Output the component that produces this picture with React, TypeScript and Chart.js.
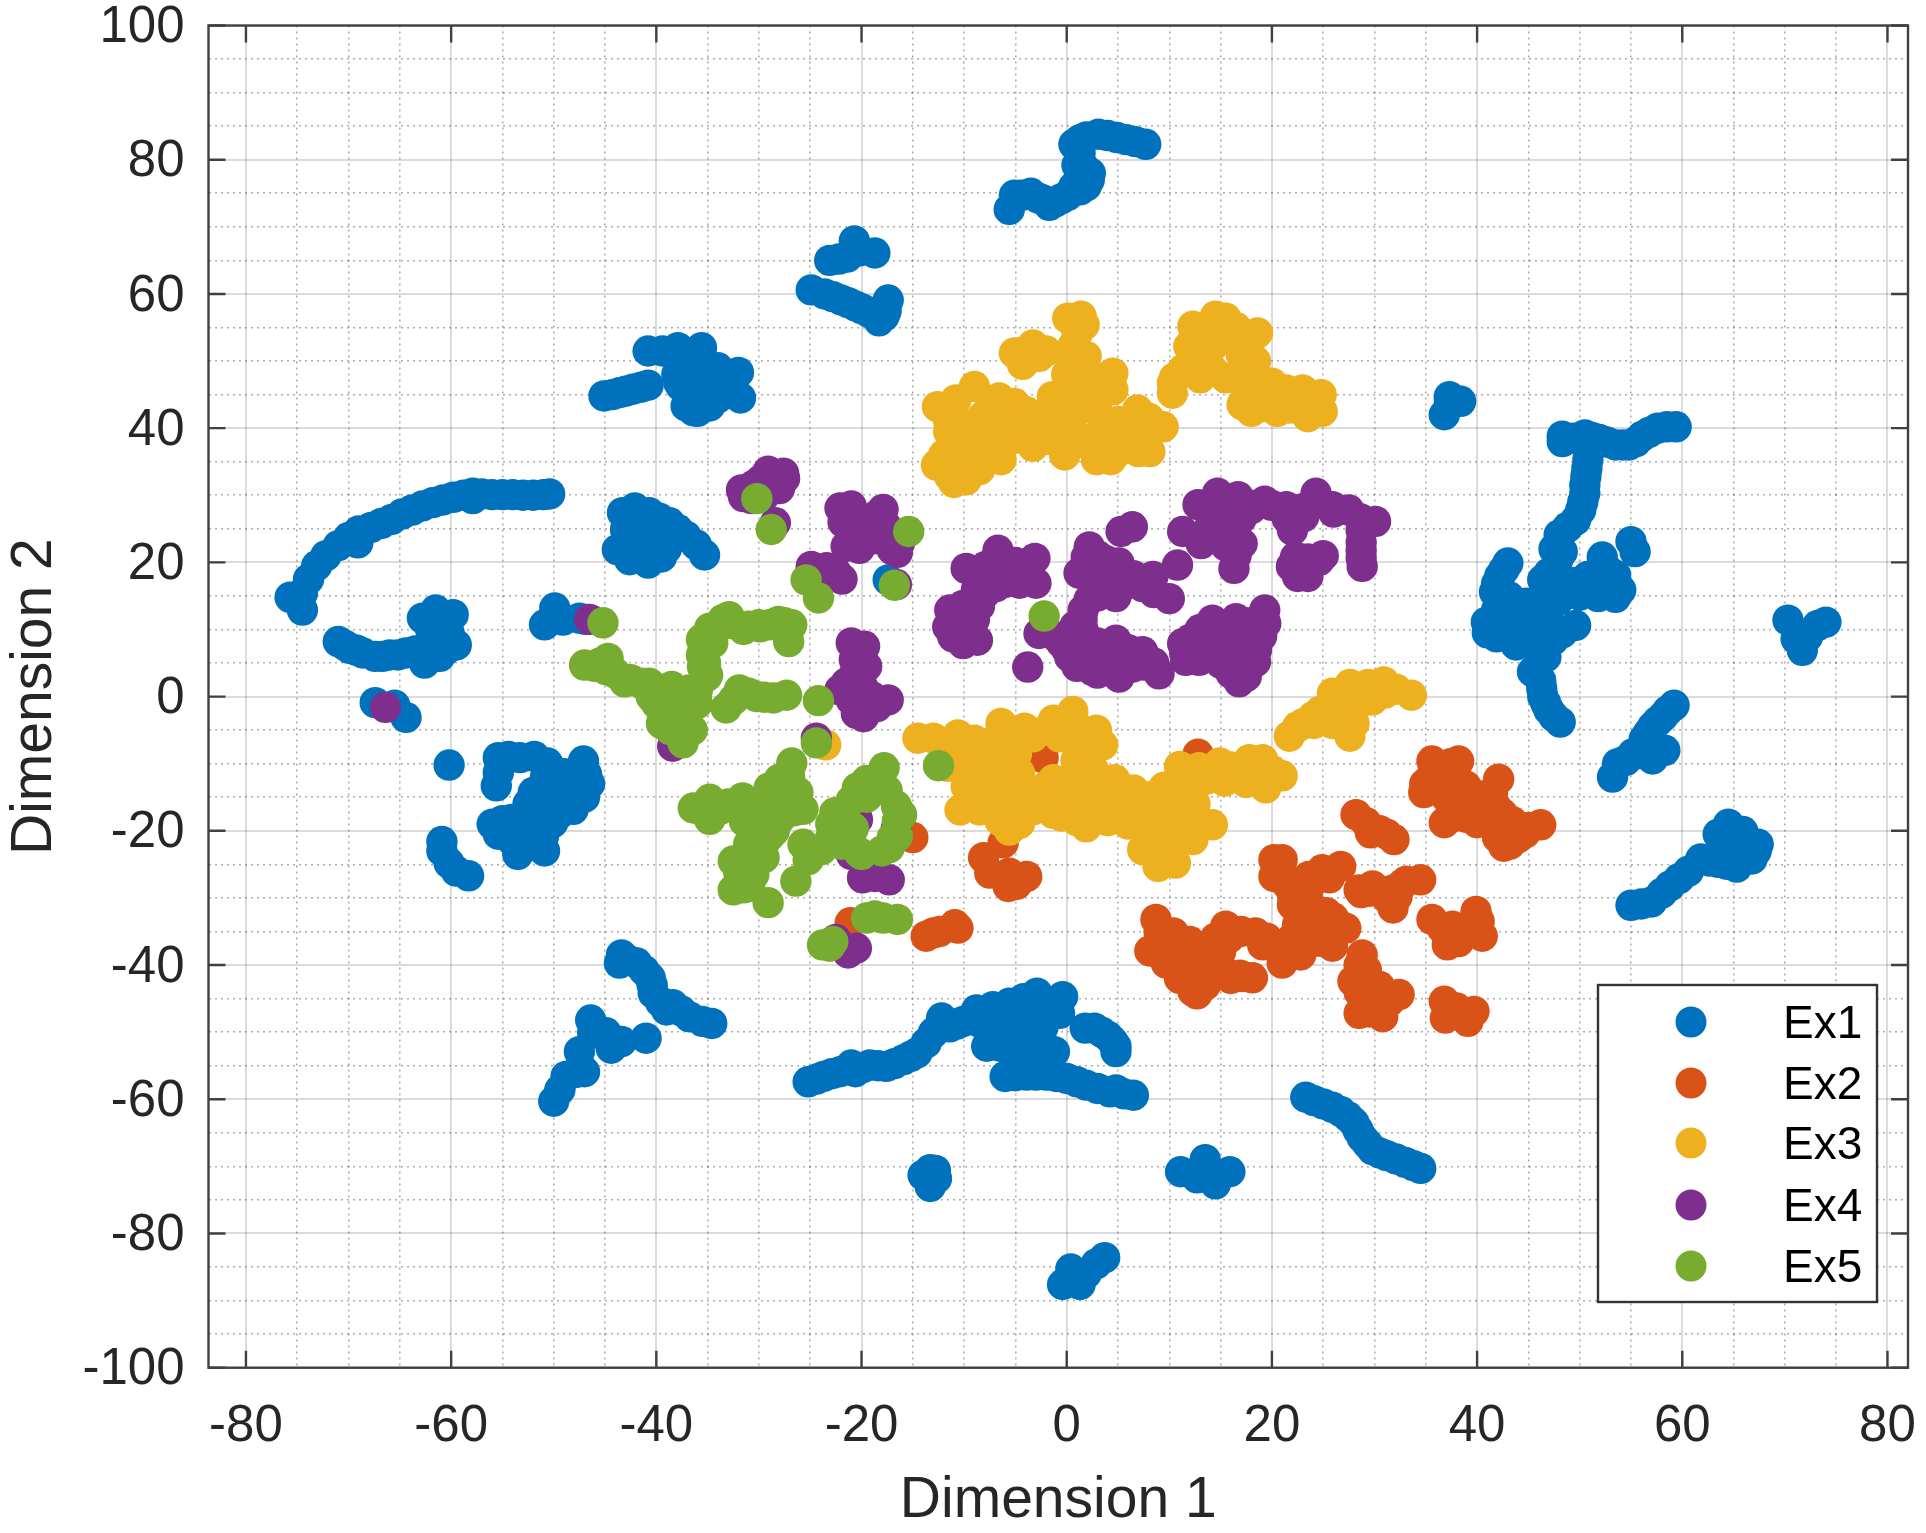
import React, { useEffect, useRef } from "react";
import { Chart, registerables } from "chart.js";

Chart.register(...registerables);

const seriesNames = ["Ex1", "Ex2", "Ex3", "Ex4", "Ex5"];
const seriesColors = ["#0072BD", "#D95319", "#EDB120", "#7E2F8E", "#77AC30"];
const xTicks = [-80,-75,-70,-65,-60,-55,-50,-45,-40,-35,-30,-25,-20,-15,-10,-5,0,5,10,15,20,25,30,35,40,45,50,55,60,65,70,75,80];
const yTicks = [-100,-95,-90,-85,-80,-75,-70,-65,-60,-55,-50,-45,-40,-35,-30,-25,-20,-15,-10,-5,0,5,10,15,20,25,30,35,40,45,50,55,60,65,70,75,80,85,90,95,100];
const xRange = [-83.65, 82];
const yRange = [-100, 100];

const ex1: number[][] = [
  [-75.7,14.8],[-74.5,12.9],[-74.5,15.4],[-73.9,17.5],[-73.1,19.5],[-72.2,21],[-71,22.5],[-70,23.7],[-69.1,22.9],[-69,24.7],[-67.8,25.2],[-66.8,25.8],[-65.8,26.4],[-64.8,27.2],[-63.8,27.8],[-62.8,28.4],[-61.8,28.9],[-60.8,29.3],[-59.8,29.7],[-58.8,30],[-57.9,30.3],[-57.9,29.5],[-57,30.2],[-56,30.1],[-55,30.1],[-54,30.1],[-53,30],[-52,30],[-51,30.1],[-50.4,30.2],
  [-71,8.2],[-70.4,7.7],[-69.9,7.2],[-69.2,6.9],[-68.6,6.5],[-67.4,6],[-66.7,6],[-66,6.2],[-65.2,6.2],[-64.4,6.5],[-63.5,6.8],[-62.6,5],[-62.8,7],[-61.5,8],[-61.1,6],[-60.5,7],[-59.5,7.7],[-60.2,9.5],[-61.5,9.5],[-62,10],[-62.8,11.7],[-61.5,12.9],[-59.8,12.2],[-61,11],
  [-49.9,13.2],[-50.9,10.7],[-49.1,11.4],[-47.5,11.7],[-46.9,11.5],
  [-43.3,27.4],[-42.1,28.1],[-40.7,27.4],[-39.7,26.6],[-38.7,25.9],[-37.9,24.9],[-37.1,23.9],[-36.1,22.6],[-35.3,21.1],[-43.8,21.9],[-42.6,20.4],[-40.8,19.9],[-39,22.1],[-41.7,24.4],[-43,24.9],[-40,24.4],[-41.5,22],[-42.5,26],[-41,26],[-42.5,23],[-41,21.5],[-40,22],[-38.5,24],[-43,22.5],[-39.5,20.8],
  [-40.8,51.5],[-39.4,51.5],[-37.9,52],[-35.6,52],
  [-45.1,44.8],[-44.3,45],[-43.6,45.3],[-43,45.5],[-42.3,45.8],[-41.5,46.1],[-40.8,46.4],
  [-37.8,46.8],[-36,42.5],[-37.1,43.3],[-34.8,43.3],[-35.8,49],[-35.2,43.5],[-33.4,46.3],[-37.6,46.3],[-34,49],[-36.4,42.6],[-32,48.3],[-31.8,44.5],[-36.5,47],[-35,46],[-33,47.5],[-32.5,46],[-36.5,44.5],[-36,45.5],[-34,44.5],[-37,45],[-38,48],[-36.5,49],[-34.5,47.5],[-32.7,47],
  [-24.9,60.6],[-23.6,60],[-22.8,59.6],[-22,59.1],[-21.3,58.7],[-20.6,58.2],[-20,57.8],[-19.3,57.3],[-18.3,56],[-17.8,56.7],[-17.4,59.1],[-17.6,57.5],[-23.1,65],[-20.7,67.9],[-20.2,66.4],[-18.7,66.1],[-21.4,65.5],[-22.2,65.2],
  [-5.6,72.6],[-5.1,74.7],[-4.4,74.7],[-3.5,75],[-2.8,74.3],[-2.3,74],[-1.7,73.2],[-1.1,73.7],[-0.5,74.2],[0.1,74.7],[0.7,76],[1.3,75.5],[1.9,76.1],[2.2,77],[2.3,78],[1.6,79],[1,79.2],[1.3,81],[0.7,82.3],[1.3,83],[1.9,83.4],[3.1,83.8],[4,83.6],[4.9,83.3],[5.8,83],[6.7,82.7],[7.7,82.3],
  [-67.4,-0.9],[-65.5,-1.3],[-64.4,-3.1],[-60.2,-10.2],[-60.9,-21.6],[-60.9,-23],[-60.2,-24.8],[-59.5,-26],[-58.3,-26.7],
  [-55.4,-9.1],[-54.4,-8.9],[-53.3,-9.1],[-51.9,-8.9],[-50.6,-9.9],[-47.1,-9.6],[-46.8,-11.6],[-55.6,-13.3],[-55.4,-11.3],[-52,-14.3],[-50.1,-13.3],[-47.1,-13.8],[-48.1,-16.8],[-50.1,-18.8],[-52,-16.8],[-54.1,-18.3],[-55.4,-20.5],[-53.5,-23.5],[-50.9,-23],[-51,-20.8],[-53.3,-20.8],[-54.6,-20.3],[-49.1,-16.3],[-50.4,-11.8],[-47.1,-11.8],[-48.4,-14.8],[-50.1,-15.8],[-50.7,-18.8],[-52,-19.6],[-49,-11.5],[-50.8,-12],[-53.5,-19.5],[-52.5,-22],[-51.7,-18],[-50.5,-17],[-49,-14],[-46.5,-13],[-49,-13],[-51,-14.5],[-52.5,-16],[-47,-15],[-49.5,-17.5],[-54,-21.5],[-56,-19],[-55,-18.5],
  [-43.4,-38.5],[-43.6,-39.7],[-42.7,-39.3],[-41.9,-39.7],[-41.2,-40.8],[-40.6,-41.9],[-40.4,-43],[-40.3,-44.2],[-39.6,-45.5],[-39,-46.7],[-38.4,-45.9],[-37.6,-46.8],[-36.8,-47.7],[-35.5,-48.4],[-34.6,-48.7],[-41,-50.9],[-43.4,-51.4],[-44.4,-52.4],[-44.9,-50.1],[-46.4,-48.2],[-46.2,-50.1],[-47.5,-52.9],[-47,-55.9],[-48.8,-56.6],[-49.4,-58.6],[-50,-60.3],[-47.8,-56],
  [-25.2,-57.4],[-24.4,-57],[-23.7,-56.6],[-22.9,-56.2],[-22.1,-55.9],[-21,-54.9],[-20.6,-55.9],[-19.9,-55.3],[-19.2,-54.9],[-18.4,-55],[-17.6,-55.1],[-16.8,-54.7],[-15.9,-54.1],[-15.2,-53.6],[-14.6,-53.1],[-13.7,-51.6],[-13,-50.1],[-12.2,-47.9],[-11.4,-49.2],[-10.7,-48.8],[-10.1,-48.4],[-8.8,-46.7],[-7.2,-46.2],[-5.6,-45.7],[-4.2,-45],[-2.9,-44.2],[-0.4,-44.7],[-0.7,-47.2],[-2.3,-49.2],[-4.6,-49.7],[-7.8,-52.1],[-6.5,-52.1],[-3.3,-52.4],[-1.2,-52.9],[-4.9,-47.7],[-7.2,-48.7],[-2.6,-46.2],[-6,-56.6],[-5,-56.5],[-3.9,-56.4],[-3,-56.4],[-2,-56.4],[-1,-56.6],[0,-56.9],[1,-57.4],[1.9,-57.9],[3,-58.4],[4.2,-58.9],[4.8,-58.6],[5.6,-59.2],[6.5,-59.4],[-3.3,-54.6],[-4.8,-54.5],[-2,-54.6],[-6,-47.5],[-4,-46.5],[-3,-47.5],[-1.5,-46],[-1,-46],[-6.5,-50],[-5.5,-51],[-4,-51],[-2.5,-51],[-5,-53.5],[-3.5,-53.5],[-2.5,-53.5],[-8.5,-48.5],[-7,-50],[-9,-47.5],[-8,-47],
  [1.8,-49.4],[2.7,-49.4],[3.4,-50],[4,-50.6],[4.5,-51.4],[4.8,-52.1],[4.8,-52.9],
  [-13.3,-70.5],[-14,-71.3],[-12.7,-71.8],[-13.3,-73],[-12.8,-70.6],
  [-0.4,-87.6],[1.3,-87.6],[0.4,-85.3],[1.9,-86],[2.9,-84.5],[3.7,-83.6],
  [11.1,-70.8],[12.7,-71.7],[13.5,-69],[14.5,-72.6],[15.9,-70.8],[14,-71],
  [23.3,-59.7],[24.1,-60.2],[25,-60.7],[25.9,-61.2],[26.7,-61.8],[27.4,-62.6],[28,-63.5],[28.4,-64.6],[28.8,-65.7],[29.3,-66.6],[29.8,-67.5],[30.5,-68],[31.2,-68.4],[32.1,-68.9],[33,-69.4],[33.8,-69.9],[34.5,-70.3],
  [37.3,44.2],[38.4,44],[36.8,42],[37.3,44.7],
  [48.3,38.8],[48.3,38],[49.4,38.5],[50.5,39],[51.2,38.6],[51.9,38.3],[52.7,37.9],[53.5,37.5],[54.2,37.5],[54.8,37.5],[55.5,38],[56.1,38.8],[56.8,39.4],[57.6,40],[58.5,40.2],[59.4,40.2],
  [50.8,35.3],[50.7,34],[50.6,32.8],[50.5,31.5],[50.5,30.3],[50.3,29],[50.1,27.8],[49.6,26.3],[48.8,25.2],[48,24.1],[48.3,21.6],[47.9,20.5],[47.7,19.4],[47,18.4],[46.4,17.4],[46.7,15.4],[47.5,22],[47.8,18],
  [43,19.9],[42.6,18.9],[42.2,17.9],[41.9,16.8],[41.7,15.6],[43.1,14.9],
  [40.9,11.1],[41.9,8.9],[43.8,7.7],[46.1,7.4],[47.4,8.4],[45.4,11.4],[43.5,12.4],[41.9,12.9],[44.8,13.9],[46.4,13.4],[49.6,10.6],[47,10.9],[43,10],[48.3,9.5],[44,9.5],[46,9],[42.5,11.5],[44,11],[46,11],[42,10],[41,9.5],[45,8],[44.5,13],[43,14],[47.5,14],
  [52.2,20.8],[50.8,17.9],[52.7,18.9],[49.3,16.4],[51.8,14.9],[54,15.9],[53.5,18.1],[50,15.1],[48,14.5],[49.5,17],[51,16],[52.5,16],[53,17],[53.5,14.8],[52,17.5],[48.5,15.5],
  [55,23.1],[55.4,21.6],
  [45.4,3.7],[46.2,2.4],[46.4,0],[46.7,-1],[47,-2],[47.5,-3],[48.1,-3.8],[46.3,1.2],[46.7,5.9],
  [70.3,11.4],[71.1,8.6],[71.7,6.9],[72.2,8.9],[73.2,10.6],[74,11.1],
  [59.2,-1.3],[58.6,-2.1],[58.1,-3],[57.6,-3.7],[57.1,-4.5],[56.7,-5.4],[56.3,-6.3],[58.3,-8],[57.1,-9.3],[55.8,-8.5],[54.5,-9.5],[53.2,-12],[53.7,-10],[55.2,-8.5],
  [55,-31.1],[56,-30.9],[57,-30.6],[58,-29.3],[58.8,-28.2],[59.7,-27.1],[60.6,-26],[61.8,-24.2],[62.6,-24.5],[63.5,-24.7],[64.4,-25],[65.3,-25.4],[66.8,-24.2],[67.2,-23],[67.4,-22],[65.9,-20.1],[64.5,-19],[63.5,-20.5],[64.8,-23.5],
  [-17.4,17.4],
];

const ex2: number[][] = [
  [35.6,-9.6],[38.2,-9.6],[34.8,-14.3],[36,-12.3],[37.3,-13.3],[38.9,-13.3],[42.1,-12.3],[40.5,-14.8],[36.8,-18.8],[40,-18.8],[38.9,-16.3],[41.8,-16.3],[43.4,-18.6],[44.7,-20.3],[46.2,-19.1],[42.6,-22.3],[43.5,-21],[36,-10.5],[37.4,-10],[35.5,-12],[37,-15],[38,-15],[40,-16.5],[39,-18],[42.5,-17.5],[41,-17.5],[43,-20],[45,-19.5],[37.5,-18],[36.5,-14],[34.9,-13],[39.5,-15],[41.5,-14.5],[44,-21],[42,-21],[43.2,-22],
  [28.2,-17.6],[29.2,-18.8],[30.5,-20],[31.9,-21.3],[29.6,-20.3],[31.2,-20.5],
  [20.2,-24.3],[20.2,-26.8],[21,-24.3],[24.9,-25.8],[26.7,-25.3],[25.6,-27],[23.6,-26.8],[22.7,-27.8],[22.8,-30.7],[25.3,-32.2],[27.2,-34.5],[25.6,-35.2],[25.9,-37.2],[23,-32.7],[24.3,-34.2],[21,-26.5],[21.5,-28],[22,-29.5],[23.5,-29],[26,-33],[26.5,-34],[24,-31.5],[23.5,-33],[25,-33],[25,-36.5],[22.5,-34],[22,-31],[22,-36],[20.5,-37],[19.5,-36],[23,-36.5],[24,-36.5],
  [28.5,-28.8],[30.5,-29],[29.5,-29],[31.8,-28.8],[33.1,-27.5],[34.5,-27.3],[31.8,-31.5],[32.2,-29.8],[30.7,-29],[32.7,-28],[31.2,-30],[28.7,-29.2],[29.8,-28.2],
  [35.6,-33.2],[37.6,-34.2],[39.9,-32],[40.2,-33.5],[40.5,-35.7],[37.1,-37],[38.2,-36.5],[39,-34.5],[36.6,-34.5],
  [28.8,-38.5],[29.2,-40.7],[27.9,-42.4],[30.5,-43.2],[32.4,-44.4],[28.5,-47.2],[30.8,-47.7],[29.8,-45.2],[31.4,-45.5],[28.9,-43],[28.5,-40],[28.5,-44],[29.5,-47],[31,-45.5],[30,-43],
  [36.8,-45.4],[38,-46.4],[36.9,-47.9],[39.1,-48.4],[39.7,-46.9],
  [8.7,-33.2],[10.4,-35.2],[15.5,-34.2],[18.4,-35.2],[21,-39.7],[22.8,-38.5],[21.9,-36.7],[17.1,-41.7],[15.2,-40.7],[12.3,-43.9],[12.3,-40.2],[10.3,-39.2],[9,-37.7],[8.1,-37.9],[12.7,-44.3],[16.9,-41.5],[18.1,-41.9],[13.9,-37],[10.9,-37],[11.5,-40.6],[9.7,-39.7],[13.6,-37.4],[11.2,-37.7],[19.1,-37],[14.5,-36],[17,-35],[13,-39],[15,-38],[14,-42],[11,-42],[10,-37.5],[13.5,-41],[15.8,-36],[12,-36.5],[16,-42],[9.5,-35.5],[9,-35],[13.5,-43],
  [12.8,-8.6],[-2.3,-9.1],
  [-8.1,-24],[-6.2,-21.8],[-5.6,-26.3],[-3.9,-26.8],[-7.5,-26.3],[-5.7,-28.3],[-4.9,-28],[-15,-21],
  [-13.7,-35.7],[-12.4,-35],[-10.9,-34],[-10.6,-34.5],[-13,-35.2],
  [-21.1,-33.7],
];

const ex3: number[][] = [
  [0.1,56.4],[1.4,56.7],[1.7,55.4],[-5.1,51.2],[-3.3,52.4],[-4.3,49.5],[-2.7,50.7],[0.6,52.2],[1.9,50.7],[0,48],[4.5,48.2],[4.5,45.7],[-1.4,44.7],[0.9,46.7],[2.5,44.7],[-12.6,43.2],[-10.8,44.2],[-9,46.2],[-6.6,44.5],[-5.1,43.7],[-8.2,41.7],[-10.5,38.8],[-12.7,34.5],[-11.4,32.8],[-9.8,32.3],[-8.5,33.8],[-6.4,35.3],[-6.9,38.8],[-4.6,40.7],[-3.3,37.3],[-0.2,36],[2.9,35.3],[4.3,35.3],[8.1,36.5],[9.4,40.2],[6.9,42.7],[10.3,45.2],[0,40.7],[-1.7,38.3],[1.9,38.3],[5.8,37.8],[3.8,40.7],[7.1,39.3],[-11.5,41],[-10,36],[-8.3,37.5],[-12,36],[-6.5,41.5],
  [-9,40],[-7,40],[-5,38.5],[-3,39],[-1.5,41],[1,42.5],[3,42.5],[5,41],[-1,43],[1,44.5],[3.5,46.5],[2,48.5],[6,39.5],[-8.5,36],[-7.5,43],[-4,42.5],[-2.5,41],[0.5,37.5],[3,37],[5,36.5],[7,36.5],[8,41.5],[1,54],[0.5,50],[1.3,48],[-4,51.5],[-2,51.5],[-10,40.5],[-11.5,39.5],[-10.5,34],[-11,31.9],
  [12.3,55.2],[14.5,56.7],[15.5,56.4],[18.6,54.2],[11.9,52.2],[14.2,52.2],[16.5,52.7],[18.4,50],[11.3,48.7],[14.2,48.7],[17.1,48.7],[10.3,46.7],[20,46.7],[17.1,43.5],[19.1,43.2],[21.4,45.7],[23,45.7],[24.8,45],[24.9,42.5],[23.5,41.7],[21.7,43],[18.8,46],[13,54],[15,54],[16.5,55],[17,51],[12.5,50],[10.5,47.5],[15.5,47.5],[13,47.5],[18.5,47.5],[17.5,45.5],[20,44],[22.5,43.5],[22.5,45],[20.5,42.5],[18,42.5],[24,43.5],
  [-14.5,-6.2],[-13,-6.2],[-10.6,-5.7],[-11.6,-10.4],[-6.4,-4],[-4.1,-4.7],[-1.3,-3.5],[0.6,-2.2],[2.9,-5],[3.5,-7.2],[-10.4,-16.9],[-8.5,-16.9],[-5.6,-19.9],[-7.2,-10],[-4.9,-8.5],[-9.8,-13.4],[-7.5,-13.4],[-4.6,-13.4],[-2,-13.4],[0.6,-14.9],[-3.3,-16.9],[-0.7,-6],[0.9,-9.5],[2.6,-10.9],[4.7,-12.4],[8.1,-14.9],[3.2,-14.9],[1.6,-16.4],[1.9,-19.4],[5.8,-17.4],[6.5,-13.9],[11,-10.4],[-4.6,-18.9],[-1.3,-17.4],[-3.3,-6],[-4.6,-11.4],[-1.3,-12.4],[0.6,-6.5],[1.6,-8.5],[-8,-7],[-10,-9],
  [-12,-7],[-9,-6.5],[-9,-9],[-8,-12],[-6,-7],[-6,-12],[-6,-15],[-8,-15],[-5,-17.5],[-3,-15],[-1,-15],[0.5,-12],[2,-13],[1,-4.5],[2,-6.5],[-2,-5],[-6.5,-18.5],[4,-16],[4,-18.5],[6,-16],[7.5,-18],[9,-18],[6,-19],[8,-20.5],[10,-22.5],[11.5,-19],[11,-14],[8,-21],[12,-18],[12.5,-16],[9.5,-13.5],[7,-15.5],[11,-12.5],[-0.5,-17.8],[1,-18.5],
  [12.9,-10.6],[14.9,-9.9],[17.8,-9.4],[19.1,-9.4],[21,-11.8],[17.5,-12.8],[19.4,-13.6],[15.4,-12.6],[13.6,-12.3],[11.8,-14.8],[10.3,-16.8],[14.2,-19.1],[12.3,-21.3],[10.6,-24.8],[8.9,-25.3],[8.7,-15.3],[10,-20.3],[7.4,-22.8],[8,-17.8],[9,-23],[16,-10.5],[18.5,-11],[20,-11],[16,-12],[12,-11.5],
  [21.7,-5.9],[23.1,-4],[24.7,-2.2],[25.9,0.5],[27.6,1.8],[27.6,-5.9],[25.9,-4],[30,0.5],[30.9,2.2],[32.1,1.1],[33.6,0.2],[28.8,-0.7],[27,-1.8],[24.1,-4],[29.4,1.8],[22.5,-4.5],[24,-3],[25.2,-2],[26.5,-3],[26.7,0.5],[28.5,1.2],[28,-4],[27,-1],[29.8,-0.5],[31,0.5],
  [-23.5,-7.2],
];

const ex4: number[][] = [
  [-9.8,19.1],[-6.7,21.8],[-7.9,19.4],[-3.1,20.6],[-5.9,18.4],[-3,16.9],[-6.9,16.4],[-8.8,15.9],[-11.4,12.9],[-10.1,13.6],[-11.6,10.4],[-9.3,10.4],[-10.1,7.9],[-8.7,8.4],[-11.1,8.9],[-4.6,16.9],[-8,17],[-6,17],[-5,20],[-7,18.5],[-4,18.5],[-10,12],[-9.5,12.5],[-11,11],[-9,11.5],[-9.5,9],[-8.5,13.5],[-7.9,15.5],[-10.5,9.5],
  [-3.8,4.4],[-2.7,9.4],[-1,8.9],[1.6,12.9],[1.9,20.8],[1.2,18.4],[3.8,20.3],[5.1,19.9],[4.8,14.9],[6.4,25.3],[5.3,24.6],[10.8,19.6],[8.4,17.9],[10,14.6],[7.4,16.4],[2.5,16.9],[2.2,22.3],[4.5,18.4],[2,19],[3,21],[4,19],[3,15],[3,18],[2.2,14.5],[5.5,16.5],[6.5,18],[8.5,15.5],
  [0.9,7.4],[1.6,9.9],[2.5,3.9],[5.1,2.9],[4.8,8.4],[7.4,6.7],[9,3.4],[3.8,6],[0.3,5.9],[6.4,4.4],[0.8,10.5],[1.5,11.5],[0,7],[1.5,6],[3,8],[4,4.5],[6,6],[7.5,4.7],[2,5],[-0.5,8],[1,4.5],[3,3.5],[6,7],[8.5,5],
  [11.6,5.4],[11.3,7.9],[14.2,11.4],[16.5,11.6],[19.3,12.9],[19.4,10.9],[14.5,6.4],[18.4,5.2],[16.8,2.2],[16.2,8.9],[13.6,8.4],[18.1,7.9],[16.8,4.4],[12.9,5.4],[12,8.5],[13,10],[15,10],[17.5,11],[18,9.5],[15.5,7.5],[17.5,6],[15,5],[13.5,6.5],[19,9],[12.5,7],[16,3.5],[17.5,3],[18.5,7],[11.5,6.5],
  [12.8,28.6],[14.7,30.3],[16.7,29.8],[19.3,29.1],[16.2,27.3],[11.3,24.6],[13.1,22.8],[16.2,24.8],[17.1,22.8],[16.3,19.1],[14.9,26.8],[21.4,28.3],[22,24.8],[24.3,30.3],[24.6,29],[27.5,27.8],[25.9,28.3],[23.1,26.8],[14,28.5],[15.5,28.5],[18,28.5],[14,25.5],[15,24],[15.5,22.5],[17,26.5],[18,28],[16.5,21],[20,28.5],[21.5,26.5],[23,28],[26,27.5],[22,27],[28.6,26.5],[28.7,23],[28.7,20.7],
  [24.6,20.3],[22.7,18.9],[23.5,17.9],[21.9,19.4],[22.3,20.8],[23,19],[24,20],[23.5,20.5],[22.5,17.9],[25,21],
  [30.1,26.1],[28.7,24.8],[28.7,21.8],[28.8,19.4],
  [-29.1,33.6],[-27.6,33.3],[-31.7,30.8],[-29.8,32.3],[-29.5,29.9],[-28.4,25.9],[-28,31],[-30.5,31.5],[-28.5,32],[-30.7,29.5],[-29,31],[-27.5,32.5],[-31.5,29.8],
  [-22.1,28.1],[-21,28.4],[-17.9,27.9],[-19.2,25.9],[-17.6,25.4],[-21.5,22.4],[-20.2,22.1],[-16.3,22.9],[-21.8,26],[-20,26],[-18.5,27],[-20.5,24],[-18.8,23.5],[-17,21.9],[-20.8,23.5],[-16.5,21.5],[-17,24],
  [-24.9,19.4],[-23.4,19.2],[-21.9,17.5],[-24,18],[-23,18],[-22.5,18.5],
  [-16.6,16.7],
  [-21,8],[-19.7,7.5],[-20.8,3],[-22.1,1],[-19.9,1.5],[-19.8,-3],[-17.4,-0.5],[-21,-0.5],[-19.5,4.5],[-20.5,0.5],[-20,-1],[-21.5,2],[-20,3.5],[-19,-1],[-18.5,-1.5],[-20.7,5.5],[-19,0],[-20.5,-2.5],[-20,6],
  [-24.4,-6.2],[-20.4,-18.3],[-16.6,-19.6],[-21,-23.5],[-19.9,-27],[-17.3,-27.3],[-18.7,-26.8],
  [-22.5,-36.2],[-20.5,-37.5],[-21.3,-38.2],[-38.4,-7.4],
  [-46.5,11.5],[-66.4,-1.6],
];

const ex5: number[][] = [
  [-45.2,11],[-47,4.7],[-44.7,5.7],[-44.9,4],[-43.1,2.2],[-40.7,2],[-40,-1],[-38.4,-0.5],[-35.6,6.2],[-35,3.2],[-36.8,1],[-34.8,10.2],[-32.9,11.9],[-46,4.5],[-45.5,5],[-44,3.5],[-42.5,2.5],[-41.5,2],[-39.5,1],[-38.5,1.5],[-38,-2],[-40.5,0],[-37.5,-1],[-38,-4.5],[-36.5,-5],[-39.5,-4],[-37.5,-3.5],[-36,-1],
  [-32.8,10.9],[-31.5,10],[-29.9,10.4],[-28.1,11.2],[-26.8,10.7],[-27.1,8.2],[-35.6,8.5],[-35.1,3],[-36,1],[-33.7,11],[-31,10.5],[-30,10.7],[-33.5,11.5],[-34.5,8],[-35.2,5],[-35.5,4.5],[-29,10.7],[-27.5,11],
  [-31.9,1],[-33.2,-1.7],[-30.2,0],[-28.6,-0.2],[-27.3,0.2],[-24.2,-0.6],[-24.4,-6.9],[-31,0.5],[-29.5,-0.1],[-32.5,-0.5],
  [-30.2,29.5],[-28.8,24.9],[-25.4,17.4],[-24.2,14.7],[-15.4,24.6],[-16.8,16.6],[-12.5,-10.3],[-2.2,12],
  [-37.4,-6.9],[-38.7,-4.9],[-39.4,-2.9],[-36.8,-2.1],[-39.7,-1.4],
  [-36.4,-16.6],[-34.8,-15.3],[-34.8,-18.3],[-33.8,-16.8],[-31.6,-15.1],[-31.4,-18.6],[-26.8,-9.9],[-28,-12.3],[-29,-13.6],[-26.2,-14.3],[-25.7,-16.8],[-28,-18.3],[-29.9,-18.8],[-29.6,-22.3],[-32.5,-24.5],[-30.9,-24.8],[-32.5,-28.8],[-30.9,-28.3],[-29.1,-30.7],[-31.6,-26.8],[-26.4,-27.5],[-25.7,-22],[-23.9,-22.8],[-25.2,-24.3],[-22.6,-17.3],[-22.3,-19.8],[-20.8,-19.6],[-20.4,-13.6],[-17.8,-10.6],[-19.2,-13.3],[-20.2,-23.3],[-16.6,-16.3],[-16.1,-17.6],[-16.5,-20.8],[-17.3,-22.5],[-21.5,-20.8],[-30.5,-21],[-27.5,-15.5],
  [-35.5,-17],[-33,-16],[-30.5,-16],[-27.5,-14],[-27,-12],[-26.5,-17],[-28.5,-20],[-30,-20],[-31,-22],[-29.5,-24],[-31.5,-28.5],[-32,-26],[-30.5,-26.5],[-29,-20.8],[-25,-23],[-23,-21],[-23,-19],[-21.5,-18.5],[-19.5,-15],[-21,-15.5],[-17.5,-14],[-16.5,-18.5],[-17,-21],[-18,-23],[-21,-21.8],[-22,-22],[-19.5,-12.5],[-20,-23.5],[-26.5,-15.5],[-28.5,-15],
  [-19.5,-33],[-17.9,-33],[-16.5,-33.2],[-18.7,-32.7],
  [-23.1,-37.2],[-23.8,-37],[-22.8,-36.5],
];

const seriesPoints = [ex1, ex2, ex3, ex4, ex5];

const legendBox = { left: 1598, top: 985, right: 1877, bottom: 1302 };
const legendMarkerX = 1691;
const legendTextX = 1783;
const legendRowY = [1022, 1083, 1143, 1205, 1266];

const frameAndLegend = {
  id: "frameAndLegend",
  afterDraw(chart: any) {
    const { ctx, chartArea: a, scales } = chart;
    ctx.save();
    ctx.strokeStyle = "#404040";
    ctx.lineWidth = 2.4;
    ctx.beginPath();
    for (const v of xTicks) {
      if (v % 20 !== 0) continue;
      const p = scales.x.getPixelForValue(v);
      ctx.moveTo(p, a.top); ctx.lineTo(p, a.top + 17);
      ctx.moveTo(p, a.bottom); ctx.lineTo(p, a.bottom - 17);
    }
    for (const v of yTicks) {
      if (v % 20 !== 0) continue;
      const p = scales.y.getPixelForValue(v);
      ctx.moveTo(a.left, p); ctx.lineTo(a.left + 17, p);
      ctx.moveTo(a.right, p); ctx.lineTo(a.right - 17, p);
    }
    ctx.stroke();
    ctx.strokeRect(a.left, a.top, a.right - a.left, a.bottom - a.top);

    const b = legendBox;
    ctx.fillStyle = "#ffffff";
    ctx.fillRect(b.left, b.top, b.right - b.left, b.bottom - b.top);
    ctx.strokeStyle = "#333333";
    ctx.lineWidth = 2.4;
    ctx.strokeRect(b.left, b.top, b.right - b.left, b.bottom - b.top);
    ctx.font = '46px "Liberation Sans"';
    ctx.textBaseline = "middle";
    ctx.textAlign = "left";
    seriesNames.forEach((name, i) => {
      ctx.fillStyle = seriesColors[i];
      ctx.beginPath();
      ctx.arc(legendMarkerX, legendRowY[i], 15.5, 0, Math.PI * 2);
      ctx.fill();
      ctx.fillStyle = "#000000";
      ctx.fillText(name, legendTextX, legendRowY[i] + 3);
    });
    ctx.restore();
  },
};

const isMajor = (c: any) => Boolean(c.tick) && c.tick.value % 20 === 0;
const gridColor = (c: any) => (isMajor(c) ? "rgba(0,0,0,0.14)" : "rgba(0,0,0,0.32)");
const gridWidth = (c: any) => (isMajor(c) ? 2 : 1.6);
const gridDash = (c: any) => (isMajor(c) ? [] : [2, 4]);
const tickFont = { family: '"Liberation Sans"', size: 51 };
const titleFont = { family: '"Liberation Sans"', size: 57 };
const textColor = "#262626";
const tickLabel = (v: any) => (Number(v) % 20 === 0 ? String(v) : "");
const clearScalePadding = (s: any) => {
  s.paddingLeft = 0;
  s.paddingRight = 0;
  s.paddingTop = 0;
  s.paddingBottom = 0;
};

export default function App() {
  const ref = useRef<HTMLCanvasElement>(null);
  useEffect(() => {
    const chart = new Chart(ref.current as HTMLCanvasElement, {
      type: "scatter",
      data: {
        datasets: seriesNames.map((name, i) => ({
          label: name,
          data: seriesPoints[i].map(([x, y]) => ({ x, y })),
          backgroundColor: seriesColors[i],
          borderWidth: 0,
          pointBorderWidth: 0,
          pointRadius: 15.7,
          pointHoverRadius: 15.7,
          order: seriesNames.length - i,
        })),
      },
      options: {
        animation: false,
        responsive: false,
        events: [],
        layout: { padding: { left: 0, top: 25.5, right: 18, bottom: 0 } },
        plugins: { legend: { display: false }, tooltip: { enabled: false } },
        scales: {
          x: {
            type: "linear",
            min: xRange[0],
            max: xRange[1],
            afterBuildTicks: (s: any) => { s.ticks = xTicks.map((value) => ({ value })); },
            afterFit: (s: any) => { s.height = 165.3; clearScalePadding(s); },
            grid: { color: gridColor, lineWidth: gridWidth, drawTicks: false },
            border: { display: false, dash: gridDash },
            ticks: { font: tickFont, color: textColor, padding: 29, autoSkip: false, maxRotation: 0, callback: tickLabel },
            title: { display: true, text: "Dimension 1", font: titleFont, color: textColor, padding: { top: 0, bottom: -2 } },
          },
          y: {
            type: "linear",
            min: yRange[0],
            max: yRange[1],
            afterBuildTicks: (s: any) => { s.ticks = yTicks.map((value) => ({ value })); },
            afterFit: (s: any) => { s.width = 208.5; clearScalePadding(s); },
            grid: { color: gridColor, lineWidth: gridWidth, drawTicks: false },
            border: { display: false, dash: gridDash },
            ticks: { font: tickFont, color: textColor, padding: 24, autoSkip: false, labelOffset: 2.5, callback: tickLabel },
            title: { display: true, text: "Dimension 2", font: titleFont, color: textColor, padding: { top: 1, bottom: 0 } },
          },
        },
      },
      plugins: [frameAndLegend],
    } as any);
    return () => chart.destroy();
  }, []);
  return (
    <canvas
      ref={ref}
      width={1926}
      height={1533}
      style={{ position: "absolute", left: 0, top: 0, display: "block", width: 1926, height: 1533 }}
    />
  );
}
